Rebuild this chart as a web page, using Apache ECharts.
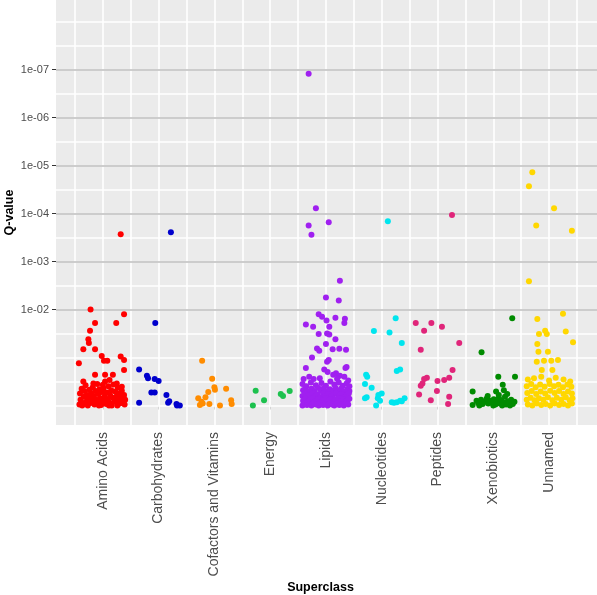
<!DOCTYPE html>
<html>
<head>
<meta charset="utf-8">
<script src="https://cdn.jsdelivr.net/npm/echarts@6/dist/echarts.min.js"></script>
<style>html,body{margin:0;padding:0;background:#fff}#c{width:597px;height:595px}</style>
</head>
<body>
<div id="c"></div>
<script>
// Categories (superclasses)
const categories = ['Amino Acids','Carbohydrates','Cofactors and Vitamins','Energy','Lipids','Nucleotides','Peptides','Xenobiotics','Unnamed'];
// y tick positions (-log10 Q) and labels
const yTickValues = [2,3,4,5,6,7];
const yTickLabels = ['1e-02','1e-03','1e-04','1e-05','1e-06','1e-07'];
// Points: [jitter offset from category centre, -log10(Q-value)]
const aminoAcids = [[0.32,3.57],[-0.22,2.00],[-0.14,1.72],[0.24,1.72],[0.38,1.90],[-0.23,1.56],[-0.26,1.38],[-0.25,1.30],[-0.35,1.17],[-0.14,1.17],[-0.43,0.88],[-0.02,1.03],[0.02,0.93],[0.08,0.93],[0.32,1.02],[0.38,0.95],[0.38,0.74],
 [-0.14,0.64],[0.04,0.64],[0.18,0.64],[0.12,0.53],[0.25,0.46],[0.34,0.39],[-0.35,0.50],[-0.17,0.46],[0.00,0.43],[0.37,0.18],
 [-0.42,0.02],[-0.40,0.12],[-0.41,0.25],[-0.38,0.35],[-0.36,0.05],[-0.34,0.18],[-0.33,0.30],[-0.31,0.42],[-0.30,0.08],[-0.28,0.22],[-0.27,0.00],[-0.25,0.14],[-0.24,0.33],[-0.22,0.05],[-0.21,0.26],[-0.19,0.10],[-0.18,0.38],[-0.16,0.20],[-0.15,0.02],[-0.13,0.30],[-0.12,0.12],[-0.10,0.45],[-0.09,0.06],[-0.08,0.24],[-0.06,0.34],[-0.05,0.15],[-0.03,0.01],[-0.02,0.28],[0.00,0.09],[0.01,0.36],[0.03,0.19],[0.04,0.50],[0.06,0.03],[0.07,0.27],[0.09,0.13],[0.10,0.40],[0.12,0.06],[0.13,0.22],[0.15,0.32],[0.16,0.00],[0.18,0.16],[0.19,0.44],[0.21,0.08],[0.22,0.29],[0.24,0.11],[0.25,0.20],[0.27,0.37],[0.28,0.03],[0.30,0.25],[0.31,0.14],[0.33,0.05],[0.34,0.31],[0.36,0.10],[0.38,0.22],[0.39,0.02],[0.40,0.12],[-0.37,0.00],[-0.07,0.00],[0.11,0.00],[0.26,0.00],[-0.20,0.17],[0.05,0.14]];
const carbohydrates = [[0.22,3.61],[-0.06,1.72],[-0.35,0.75],[-0.21,0.62],[-0.19,0.57],[-0.07,0.55],[0.00,0.51],[-0.13,0.27],[-0.07,0.27],[0.14,0.22],[0.19,0.09],[0.17,0.06],[0.32,0.03],[0.38,0.00],[0.33,0.00],[-0.35,0.06]];
const cofactors = [[-0.22,0.93],[-0.04,0.56],[0.00,0.38],[0.01,0.33],[0.21,0.35],[-0.11,0.28],[-0.16,0.17],[-0.29,0.15],[-0.23,0.08],[-0.26,0.01],[-0.21,0.04],[-0.09,0.03],[0.10,0.00],[0.30,0.11],[0.31,0.03]];
const energy = [[-0.26,0.31],[-0.11,0.11],[-0.31,0.00],[0.19,0.24],[0.23,0.20],[0.35,0.30]];
const lipids = [[-0.31,6.91],[-0.18,4.11],[0.05,3.82],[-0.31,3.75],[-0.26,3.56],[0.25,2.60],[0.00,2.25],[0.23,2.19],[-0.13,1.90],[-0.07,1.85],[-0.36,1.69],[-0.23,1.64],[0.01,1.77],[0.17,1.83],[0.34,1.81],[0.33,1.72],[0.06,1.64],[-0.13,1.49],[0.02,1.50],[0.06,1.48],[0.17,1.38],[0.00,1.28],[-0.16,1.19],[-0.12,1.14],[0.12,1.17],[0.24,1.18],[0.36,1.16],[-0.25,1.00],[0.02,0.91],[0.05,0.95],[-0.36,0.78],[-0.03,0.75],[0.35,0.78],[0.37,0.80],[0.03,0.70],[0.18,0.67],[0.25,0.62],
 [-0.40,0.55],[-0.30,0.60],[-0.22,0.55],[-0.11,0.57],[0.13,0.64],[0.33,0.60],[0.40,0.52],[0.20,0.56],
 [-0.42,0.45],[-0.35,0.40],[-0.27,0.48],[-0.18,0.42],[-0.08,0.47],[0.00,0.41],[0.08,0.50],[0.15,0.44],[0.23,0.48],[0.30,0.41],[0.37,0.46],[0.42,0.40],
 [-0.41,0.32],[-0.37,0.36],[-0.31,0.29],[-0.26,0.35],[-0.20,0.30],[-0.14,0.37],[-0.09,0.31],[-0.04,0.36],[0.02,0.29],[0.07,0.34],[0.12,0.30],[0.17,0.37],[0.22,0.31],[0.27,0.35],[0.32,0.29],[0.38,0.34],[0.42,0.30],
 [-0.42,0.20],[-0.38,0.24],[-0.34,0.18],[-0.29,0.22],[-0.24,0.26],[-0.19,0.19],[-0.15,0.23],[-0.10,0.17],[-0.05,0.25],[-0.01,0.20],[0.04,0.24],[0.09,0.18],[0.13,0.22],[0.18,0.26],[0.23,0.19],[0.28,0.23],[0.33,0.17],[0.37,0.21],[0.41,0.25],
 [-0.41,0.10],[-0.37,0.14],[-0.33,0.08],[-0.28,0.12],[-0.23,0.15],[-0.19,0.09],[-0.14,0.13],[-0.10,0.07],[-0.05,0.11],[0.00,0.15],[0.04,0.09],[0.08,0.13],[0.13,0.07],[0.17,0.12],[0.22,0.15],[0.26,0.09],[0.31,0.13],[0.35,0.08],[0.39,0.11],[0.42,0.14],
 [-0.42,0.00],[-0.38,0.04],[-0.34,0.01],[-0.30,0.03],[-0.26,0.00],[-0.22,0.05],[-0.18,0.02],[-0.13,0.00],[-0.09,0.04],[-0.05,0.01],[-0.01,0.03],[0.03,0.00],[0.07,0.05],[0.11,0.02],[0.15,0.00],[0.20,0.04],[0.24,0.01],[0.28,0.03],[0.32,0.00],[0.36,0.05],[0.40,0.02]];
const nucleotides = [[0.11,3.84],[0.25,1.82],[-0.14,1.55],[0.14,1.52],[0.36,1.30],[0.27,0.72],[0.33,0.75],[-0.28,0.64],[-0.26,0.60],[-0.30,0.45],[-0.18,0.37],[-0.06,0.22],[0.00,0.25],[-0.27,0.17],[-0.30,0.15],[-0.07,0.15],[-0.03,0.10],[-0.10,0.00],[0.18,0.07],[0.27,0.07],[0.36,0.09],[0.41,0.15],[0.33,0.10],[0.22,0.06]];
const peptides = [[0.26,3.97],[-0.39,1.72],[-0.11,1.72],[-0.24,1.56],[0.08,1.64],[0.39,1.30],[-0.30,1.16],[0.27,0.74],[0.21,0.58],[0.12,0.53],[0.00,0.51],[-0.19,0.58],[-0.24,0.55],[-0.27,0.46],[-0.30,0.41],[-0.01,0.30],[-0.33,0.23],[0.21,0.18],[-0.12,0.11],[0.19,0.03]];
const xenobiotics = [[0.34,1.82],[-0.21,1.11],[0.09,0.60],[0.39,0.60],[-0.37,0.29],[0.17,0.43],[0.19,0.32],[0.05,0.29],[0.25,0.24],[-0.37,0.01],
 [-0.30,0.10],[-0.27,0.05],[-0.22,0.12],[-0.19,0.03],[-0.15,0.08],[-0.12,0.14],[-0.09,0.04],[-0.05,0.10],[-0.02,0.06],[0.01,0.13],[0.04,0.02],[0.07,0.09],[0.10,0.15],[0.12,0.04],[0.15,0.11],[0.18,0.06],[0.21,0.18],[0.23,0.02],[0.26,0.09],[0.29,0.05],[0.32,0.12],[0.35,0.03],[0.38,0.08],[-0.25,0.00],[0.00,0.00],[0.16,0.00],[0.30,0.00],[-0.10,0.20],[0.10,0.22]];
const unnamed = [[-0.30,4.86],[-0.36,4.57],[0.09,4.11],[-0.23,3.75],[0.41,3.64],[-0.36,2.59],[0.25,1.91],[-0.21,1.80],[-0.07,1.56],[-0.04,1.49],[0.30,1.54],[-0.18,1.49],[0.43,1.32],[-0.21,1.28],[-0.19,1.12],[-0.02,1.12],[-0.22,0.91],[-0.09,0.93],[0.04,0.93],[0.16,0.95],[0.06,0.74],[-0.13,0.74],
 [-0.38,0.54],[-0.27,0.57],[-0.14,0.60],[0.00,0.52],[0.26,0.54],[0.38,0.50],[0.12,0.58],
 [-0.40,0.40],[-0.32,0.45],[-0.24,0.38],[-0.16,0.44],[-0.08,0.39],[0.01,0.45],[0.09,0.40],[0.17,0.43],[0.25,0.38],[0.33,0.44],[0.40,0.39],
 [-0.39,0.26],[-0.31,0.30],[-0.23,0.24],[-0.15,0.29],[-0.07,0.25],[0.02,0.31],[0.10,0.26],[0.18,0.30],[0.26,0.24],[0.34,0.29],[0.41,0.25],
 [-0.40,0.12],[-0.33,0.16],[-0.26,0.11],[-0.18,0.15],[-0.10,0.12],[-0.02,0.17],[0.06,0.11],[0.14,0.16],[0.22,0.12],[0.30,0.17],[0.37,0.11],[0.42,0.15],
 [-0.38,0.02],[-0.30,0.00],[-0.22,0.04],[-0.14,0.01],[-0.06,0.03],[0.02,0.00],[0.10,0.04],[0.18,0.01],[0.26,0.03],[0.34,0.00],[0.41,0.04]];

const groups = [aminoAcids, carbohydrates, cofactors, energy, lipids, nucleotides, peptides, xenobiotics, unnamed];
const colors = ['#FF0000','#0000CD','#FF8C00','#1DC14E','#A020F0','#00E5EE','#E0257A','#008B00','#FFD700'];

// background grid line positions (ggplot-style)
const vGrid = []; for (let i = 1; i <= 19; i++) vGrid.push(i / 2);
const hGrid = []; for (let i = 0; i <= 16; i++) hGrid.push(i / 2);

const chart = echarts.init(document.getElementById('c'), null, {renderer: 'canvas'});
const font = '"Liberation Sans", Arial, sans-serif';

const series = [{
  type: 'scatter', data: [], silent: true, z: 1,
  markLine: {
    silent: true, symbol: 'none', z: 1, animation: false,
    label: {show: false},
    data: vGrid.map(v => ({xAxis: v, lineStyle: {color: '#FFFFFF', width: 1.6, type: 'solid'}}))
      .concat(hGrid.map(v => ({yAxis: v, lineStyle: {color: '#FFFFFF', width: 1.6, type: 'solid'}})))
      .concat(yTickValues.map(v => ({yAxis: v, lineStyle: {color: '#BDBDBD', width: 1.6, type: 'solid'}})))
  }
}];
groups.forEach((g, i) => {
  series.push({
    type: 'scatter', name: categories[i], z: 3,
    symbol: 'circle', symbolSize: 6,
    itemStyle: {color: colors[i], opacity: 1},
    data: g.map(p => [i + 1 + p[0], p[1]])
  });
});

chart.setOption({
  animation: false,
  backgroundColor: '#FFFFFF',
  grid: {left: 56, right: 0, top: 0, bottom: 170, show: true, backgroundColor: '#EBEBEB', borderWidth: 0, containLabel: false, outerBoundsMode: 'none'},
  xAxis: {
    type: 'value', min: 0.16, max: 9.86,
    name: 'Superclass', nameLocation: 'middle', nameGap: 156, nameMoveOverlap: false,
    nameTextStyle: {fontFamily: font, fontWeight: 'bold', fontSize: 12.5, color: '#000', padding: [0, 12, 0, 0]},
    axisLine: {show: false},
    splitLine: {show: false},
    axisTick: {show: true, customValues: [1,2,3,4,5,6,7,8,9], length: 4, lineStyle: {color: '#333', width: 1}},
    axisLabel: {show: true, customValues: [1,2,3,4,5,6,7,8,9], rotate: 90, margin: 7,
      formatter: v => categories[Math.round(v) - 1] || '',
      fontFamily: font, fontSize: 14, color: '#4D4D4D'}
  },
  yAxis: {
    type: 'value', min: -0.406, max: 8.448,
    name: 'Q-value', nameLocation: 'middle', nameGap: 40, nameRotate: 90, nameMoveOverlap: false,
    nameTextStyle: {fontFamily: font, fontWeight: 'bold', fontSize: 12.5, color: '#000'},
    axisLine: {show: false},
    splitLine: {show: false},
    axisTick: {show: true, customValues: yTickValues, length: 4, lineStyle: {color: '#333', width: 1}},
    axisLabel: {show: true, customValues: yTickValues, margin: 7,
      formatter: v => yTickLabels[yTickValues.indexOf(Math.round(v))] || '',
      fontFamily: font, fontSize: 11, color: '#4D4D4D'}
  },
  series: series
});
</script>
</body>
</html>
